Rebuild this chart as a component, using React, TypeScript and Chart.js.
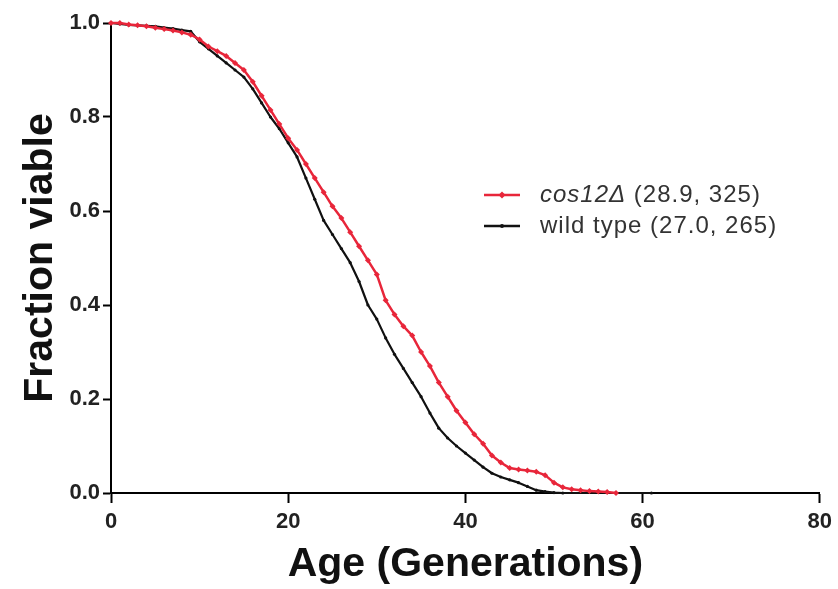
import React, { useEffect, useRef } from "react";
import { Chart, registerables } from "chart.js";

Chart.register(...registerables);

// ---- Data ----
const xTicks = [0, 20, 40, 60, 80];
const yTicks = [0, 0.2, 0.4, 0.6, 0.8, 1.0];

const mutantName = "cos12Δ";
const mutantStats = " (28.9, 325)";
const wildName = "wild type";
const wildStats = " (27.0, 265)";

const mutantAges = [
  0, 1, 2, 3, 4, 5, 6, 7, 8, 9, 10, 11, 12, 13, 14, 15, 16, 17, 18, 19, 20,
  21, 22, 23, 24, 25, 26, 27, 28, 29, 30, 31, 32, 33, 34, 35, 36, 37, 38, 39,
  40, 41, 42, 43, 44, 45, 46, 47, 48, 49, 50, 51, 52, 53, 54, 55, 56, 57,
];
const mutantViable = [
  1.0, 1.0, 0.997, 0.995, 0.993, 0.99, 0.987, 0.984, 0.98, 0.975, 0.965, 0.95,
  0.94, 0.93, 0.915, 0.9, 0.875, 0.845, 0.815, 0.785, 0.755, 0.73, 0.7, 0.67,
  0.64, 0.61, 0.585, 0.555, 0.525, 0.495, 0.465, 0.41, 0.38, 0.355, 0.335,
  0.3, 0.27, 0.235, 0.205, 0.175, 0.15, 0.125, 0.105, 0.08, 0.065, 0.053,
  0.05, 0.048, 0.045, 0.038, 0.022, 0.012, 0.008, 0.006, 0.004, 0.003, 0.002,
  0.0,
];

const wildAges = [
  0, 1, 2, 3, 4, 5, 6, 7, 8, 9, 10, 11, 12, 13, 14, 15, 16, 17, 18, 19, 20,
  21, 22, 23, 24, 25, 26, 27, 28, 29, 30, 31, 32, 33, 34, 35, 36, 37, 38, 39,
  40, 41, 42, 43, 44, 45, 46, 47, 48, 49, 50, 51, 61,
];
const wildViable = [
  1.0, 0.998, 0.996, 0.995, 0.994, 0.993, 0.99, 0.988, 0.985, 0.982, 0.96,
  0.945, 0.93, 0.915, 0.9, 0.885, 0.86, 0.83, 0.8, 0.775, 0.745, 0.715, 0.67,
  0.625, 0.58, 0.55, 0.52, 0.49, 0.45, 0.4, 0.37, 0.33, 0.295, 0.265,
  0.235, 0.205, 0.17, 0.138, 0.117, 0.1, 0.085, 0.07, 0.055, 0.042, 0.034,
  0.028, 0.022, 0.014, 0.006, 0.003, 0.001, 0.0, 0.0,
];

const RED = "rgb(232,38,58)";
const BLACK = "#111111";
const FONT = "'Liberation Sans', Arial, sans-serif";

const legendPlugin = {
  id: "insetLegend",
  afterDraw(chart: any) {
    const ctx = chart.ctx;
    const rows = [
      { color: RED, name: mutantName, stats: mutantStats, italic: true, r: 3.5, diamond: true },
      { color: BLACK, name: wildName, stats: wildStats, italic: false, r: 2, diamond: false },
    ];
    const x0 = 484;
    const x1 = 520;
    const tx = 540;
    let y = 195;
    rows.forEach((row) => {
      ctx.save();
      ctx.strokeStyle = row.color;
      ctx.lineWidth = 2.5;
      ctx.beginPath();
      ctx.moveTo(x0, y);
      ctx.lineTo(x1, y);
      ctx.stroke();
      ctx.fillStyle = row.color;
      const cx = (x0 + x1) / 2;
      ctx.beginPath();
      if (row.diamond) {
        ctx.moveTo(cx, y - row.r);
        ctx.lineTo(cx + row.r, y);
        ctx.lineTo(cx, y + row.r);
        ctx.lineTo(cx - row.r, y);
        ctx.closePath();
      } else {
        ctx.arc(cx, y, row.r, 0, Math.PI * 2);
      }
      ctx.fill();
      ctx.fillStyle = "#333333";
      ctx.textBaseline = "middle";
      ctx.textAlign = "left";
      if ("letterSpacing" in ctx) (ctx as any).letterSpacing = "1px";
      ctx.font = (row.italic ? "italic " : "") + "24px " + FONT;
      ctx.fillText(row.name, tx, y);
      const w = ctx.measureText(row.name).width;
      ctx.font = "24px " + FONT;
      ctx.fillText(row.stats, tx + w, y);
      ctx.restore();
      y += 31;
    });
  },
};

export default function App() {
  const ref = useRef<HTMLCanvasElement>(null);

  useEffect(() => {
    if (!ref.current) return;
    const tickFont = { family: FONT, size: 22, weight: "bold" as const };
    const titleFont = { family: FONT, size: 41, weight: "bold" as const };
    const chart = new Chart(ref.current, {
      type: "scatter",
      data: {
        datasets: [
          {
            label: mutantName + mutantStats,
            data: mutantAges.map((a, i) => ({ x: a, y: mutantViable[i] })),
            showLine: true,
            borderColor: RED,
            backgroundColor: RED,
            borderWidth: 2.5,
            pointStyle: "rectRot",
            pointRadius: 3,
            pointBorderWidth: 0,
            borderJoinStyle: "round",
            clip: 6 as any,
          },
          {
            label: wildName + wildStats,
            data: wildAges.map((a, i) => ({ x: a, y: wildViable[i] })),
            showLine: true,
            borderColor: BLACK,
            backgroundColor: BLACK,
            borderWidth: 2.2,
            pointStyle: "circle",
            pointRadius: 1.6,
            pointBorderWidth: 0,
            borderJoinStyle: "round",
            clip: 6 as any,
          },
        ],
      },
      plugins: [legendPlugin],
      options: {
        responsive: false,
        animation: false,
        layout: { padding: { left: 0, top: 23, right: 18, bottom: 0 } },
        plugins: { legend: { display: false }, tooltip: { enabled: false } },
        scales: {
          x: {
            type: "linear",
            min: 0,
            max: 80,
            afterBuildTicks: (scale: any) => {
              scale.ticks = xTicks.map((v) => ({ value: v }));
            },
            afterFit: (scale: any) => {
              scale.height = 96;
            },
            ticks: { font: tickFont, color: "#222222", padding: 6, maxRotation: 0 },
            grid: { drawOnChartArea: false, tickLength: 10, tickWidth: 2, tickColor: "#000" },
            border: { width: 2, color: "#000" },
            title: { display: true, text: "Age (Generations)", font: titleFont, color: "#111", padding: { top: 0, bottom: 0 } },
          },
          y: {
            type: "linear",
            min: 0,
            max: 1,
            afterBuildTicks: (scale: any) => {
              scale.ticks = yTicks.map((v) => ({ value: v }));
            },
            afterFit: (scale: any) => {
              scale.width = 111;
            },
            ticks: { font: tickFont, color: "#222222", padding: 3, callback: (v: any) => Number(v).toFixed(1) },
            grid: { drawOnChartArea: false, tickLength: 8, tickWidth: 2, tickColor: "#000" },
            border: { width: 2, color: "#000" },
            title: { display: true, text: "Fraction viable", font: titleFont, color: "#111", padding: { top: 16, bottom: 0 } },
          },
        },
      },
    });
    return () => chart.destroy();
  }, []);

  return (
    <div style={{ position: "fixed", left: 0, top: 0, width: 838, height: 589, background: "#fff" }}>
      <canvas ref={ref} width={838} height={589} />
    </div>
  );
}
